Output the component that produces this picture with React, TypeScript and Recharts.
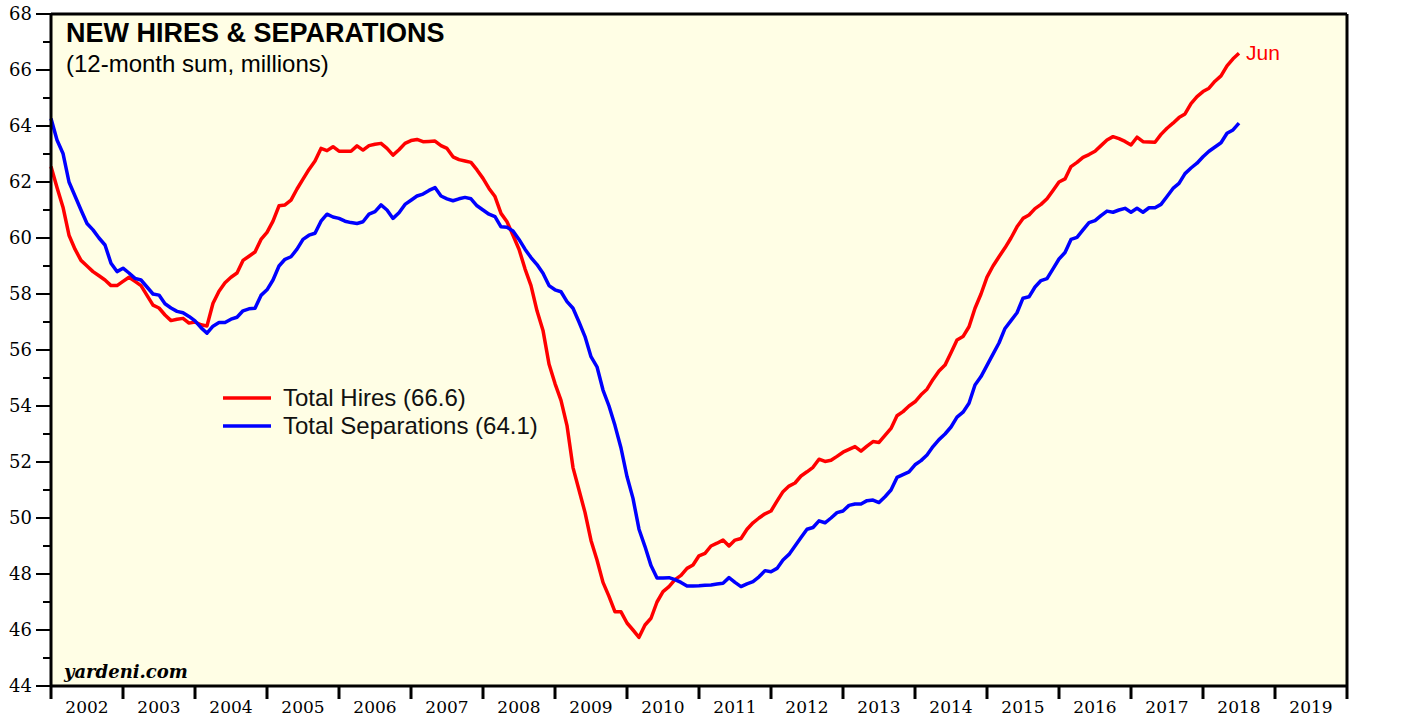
import { LineChart, Line, XAxis, YAxis, CartesianGrid, Legend, ReferenceLine } from "recharts";

// monthly 12-month sums, millions, Dec 2001 .. Jun 2018
const START_YEAR = 2002; // Dec 2001 sits on the 2002 boundary
const hires = [
  62.55, 61.8, 61.1, 60.1, 59.6, 59.2, 59.0, 58.8, 58.65, 58.5,
  58.3, 58.3, 58.45, 58.6, 58.45, 58.3, 57.95, 57.6, 57.5, 57.25,
  57.05, 57.1, 57.13, 56.96, 57.0, 56.9, 56.86, 57.67, 58.1, 58.4,
  58.6, 58.75, 59.2, 59.35, 59.5, 59.95, 60.2, 60.6, 61.15, 61.18,
  61.35, 61.75, 62.1, 62.45, 62.75, 63.2, 63.12, 63.26, 63.1, 63.1,
  63.1, 63.29, 63.14, 63.3, 63.35, 63.38, 63.2, 62.96, 63.15, 63.38,
  63.48, 63.52, 63.44, 63.45, 63.46, 63.3, 63.2, 62.9, 62.8, 62.75,
  62.7, 62.43, 62.13, 61.77, 61.48, 60.88, 60.58, 60.1, 59.6, 58.9,
  58.3, 57.4, 56.7, 55.5, 54.8, 54.2, 53.3, 51.8, 51.0, 50.2,
  49.2, 48.5, 47.7, 47.2, 46.65, 46.65, 46.25, 46.0, 45.74, 46.18,
  46.42, 47.0, 47.37, 47.55, 47.8, 47.95, 48.2, 48.32, 48.65, 48.74,
  49.0, 49.1, 49.21, 49.0, 49.21, 49.27, 49.6, 49.83, 50.0, 50.15,
  50.25, 50.6, 50.94, 51.14, 51.25, 51.5, 51.65, 51.81, 52.1, 52.02,
  52.06, 52.2, 52.35, 52.45, 52.55, 52.39, 52.57, 52.73, 52.7, 52.95,
  53.2, 53.65, 53.8, 54.0, 54.15, 54.4, 54.6, 54.95, 55.25, 55.46,
  55.9, 56.36, 56.48, 56.83, 57.49, 58.0, 58.6, 59.0, 59.33, 59.65,
  60.0, 60.4, 60.7, 60.82, 61.05, 61.2, 61.4, 61.7, 62.0, 62.11,
  62.55, 62.7, 62.88, 62.98, 63.1, 63.3, 63.5, 63.62, 63.55, 63.45,
  63.32, 63.6, 63.44, 63.43, 63.42, 63.7, 63.92, 64.1, 64.3, 64.43,
  64.8, 65.05, 65.23, 65.35, 65.6, 65.79, 66.15, 66.4, 66.6,
];
const separations = [
  64.27, 63.5, 63.02, 62.0, 61.5, 61.0, 60.52, 60.29, 60.0, 59.75,
  59.1, 58.8, 58.92, 58.75, 58.56, 58.5, 58.25, 58.0, 57.96, 57.65,
  57.5, 57.38, 57.33, 57.2, 57.04, 56.8, 56.6, 56.85, 56.98, 56.98,
  57.1, 57.17, 57.4, 57.47, 57.49, 57.95, 58.15, 58.5, 59.0, 59.24,
  59.33, 59.6, 59.95, 60.1, 60.17, 60.6, 60.85, 60.75, 60.7, 60.6,
  60.55, 60.52, 60.58, 60.85, 60.94, 61.18, 61.0, 60.7, 60.9, 61.2,
  61.35, 61.5, 61.57, 61.7, 61.8, 61.5, 61.4, 61.33, 61.4, 61.45,
  61.4, 61.15, 61.0, 60.85, 60.76, 60.4, 60.38, 60.25, 59.95, 59.6,
  59.3, 59.05, 58.74, 58.3, 58.15, 58.08, 57.73, 57.49, 57.0, 56.48,
  55.76, 55.4, 54.57, 54.0, 53.3, 52.5, 51.48, 50.7, 49.6, 48.98,
  48.3, 47.86, 47.86, 47.87, 47.8, 47.7, 47.57, 47.57, 47.58, 47.6,
  47.61, 47.64, 47.67, 47.87, 47.7, 47.55, 47.65, 47.73, 47.9, 48.12,
  48.08, 48.2, 48.5, 48.7, 49.0, 49.3, 49.6, 49.66, 49.9, 49.83,
  50.0, 50.19, 50.25, 50.45, 50.5, 50.5, 50.62, 50.64, 50.55, 50.76,
  51.0, 51.45, 51.55, 51.65, 51.9, 52.05, 52.25, 52.55, 52.8, 53.0,
  53.25, 53.6, 53.78, 54.1, 54.75, 55.05, 55.45, 55.85, 56.25, 56.77,
  57.05, 57.33, 57.85, 57.9, 58.25, 58.48, 58.55, 58.9, 59.25, 59.48,
  59.95, 60.02, 60.29, 60.55, 60.62, 60.8, 60.96, 60.92, 61.0, 61.06,
  60.92, 61.06, 60.92, 61.08, 61.08, 61.2, 61.48, 61.77, 61.95, 62.3,
  62.5, 62.67, 62.9, 63.1, 63.25, 63.4, 63.74, 63.86, 64.1,
];
const years = [2002, 2003, 2004, 2005, 2006, 2007, 2008, 2009, 2010, 2011, 2012, 2013, 2014, 2015, 2016, 2017, 2018, 2019];
const yTicks = [44, 45, 46, 47, 48, 49, 50, 51, 52, 53, 54, 55, 56, 57, 58, 59, 60, 61, 62, 63, 64, 65, 66, 67, 68];

const data = hires.map((h, i) => ({ t: START_YEAR + i / 12, hires: h, seps: separations[i] }));
const xTicks = [...years.flatMap(y => [y, y + 0.5]), years[years.length - 1] + 1];

const SANS = "'Liberation Sans', Arial, sans-serif";
const SERIF = "'DejaVu Serif', serif";

function YTick(props: any) {
  const { x, y, payload, side } = props;
  const major = payload.value % 2 === 0;
  const dir = side === "left" ? -1 : 1;
  return (
    <g>
      <line x1={x} x2={x + dir * (major ? 15 : 8)} y1={y} y2={y} stroke="#000" strokeWidth={2} />
      {major && (
        <text x={x + dir * 19} y={y} dy={6} textAnchor={side === "left" ? "end" : "start"}
          fontFamily={SERIF} fontSize={18} fill="#000">{payload.value}</text>
      )}
    </g>
  );
}

function XTick(props: any) {
  const { x, y, payload } = props;
  const v = payload.value;
  if (Number.isInteger(v)) {
    return <line x1={x} x2={x} y1={y} y2={y + 13} stroke="#000" strokeWidth={3} />;
  }
  return (
    <text x={x} y={y + 27} textAnchor="middle" fontFamily={SERIF} fontSize={17} fill="#000">
      {Math.floor(v)}
    </text>
  );
}

function LegendBox(props: any) {
  return (
    <div>
      {props.payload.map((p: any) => (
        <div key={p.value} style={{ display: "flex", alignItems: "center", height: 28 }}>
          <svg width={48} height={6}>
            <line x1={0} x2={48} y1={3} y2={3} stroke={p.color} strokeWidth={3.5} />
          </svg>
          <span style={{ marginLeft: 12, fontFamily: SANS, fontSize: 24, color: "#111" }}>{p.value}</span>
        </div>
      ))}
    </div>
  );
}

export default function App() {
  const last = hires.length - 1;
  return (
    <div style={{ position: "absolute", left: 0, top: 0, width: 1408, height: 717, background: "#fff" }}>
      <LineChart width={1408} height={717} data={data} margin={{ top: 14, right: 0, bottom: 0, left: 0 }}>
        <CartesianGrid horizontal={false} vertical={false} fill="#FFFEE5" />
        <XAxis dataKey="t" type="number" domain={[2002, 2020]} ticks={xTicks} interval={0}
          height={31} tickSize={0} tickMargin={0} tickLine={false}
          axisLine={{ stroke: "#000", strokeWidth: 3 }} tick={(p: any) => <XTick {...p} />} />
        <YAxis domain={[44, 68]} ticks={yTicks} interval={0} width={51} tickSize={0} tickMargin={0}
          tickLine={false} axisLine={{ stroke: "#000", strokeWidth: 3 }}
          tick={(p: any) => <YTick {...p} side="left" />} />
        <YAxis yAxisId="right" orientation="right" domain={[44, 68]} ticks={yTicks} interval={0} width={61}
          tickSize={0} tickMargin={0} tickLine={false} axisLine={{ stroke: "#000", strokeWidth: 3 }}
          tick={(p: any) => <YTick {...p} side="right" />} />
        <ReferenceLine y={68} stroke="#000" strokeWidth={3} />
        <Legend verticalAlign="middle" align="center" content={(p: any) => <LegendBox {...p} />}
          wrapperStyle={{ left: 223, top: 384, width: "auto" }} />
        <Line dataKey="hires" name={`Total Hires (${hires[last].toFixed(1)})`} stroke="#FF0000"
          strokeWidth={3.5} dot={false} isAnimationActive={false} strokeLinejoin="round"
          label={(p: any) => p.index === last ? (
            <text key="jun" x={p.x + 7} y={p.y} dy={7} fontFamily={SANS} fontSize={21} fill="#FF0000">Jun</text>
          ) : <g key={p.index} />} />
        <Line dataKey="seps" name={`Total Separations (${separations[last].toFixed(1)})`} stroke="#0000FF"
          strokeWidth={3.5} dot={false} isAnimationActive={false} strokeLinejoin="round" />
      </LineChart>
      <svg width={1408} height={717} style={{ position: "absolute", left: 0, top: 0, pointerEvents: "none" }}>
        <text x={66} y={42} fontFamily={SANS} fontWeight="bold" fontSize={27} fill="#000">NEW HIRES &amp; SEPARATIONS</text>
        <text x={66} y={72} fontFamily={SANS} fontSize={24} fill="#000">(12-month sum, millions)</text>
        <text x={64} y={678} fontFamily={SERIF} fontWeight="bold" fontStyle="italic" fontSize={18} fill="#000">yardeni.com</text>
      </svg>
    </div>
  );
}
